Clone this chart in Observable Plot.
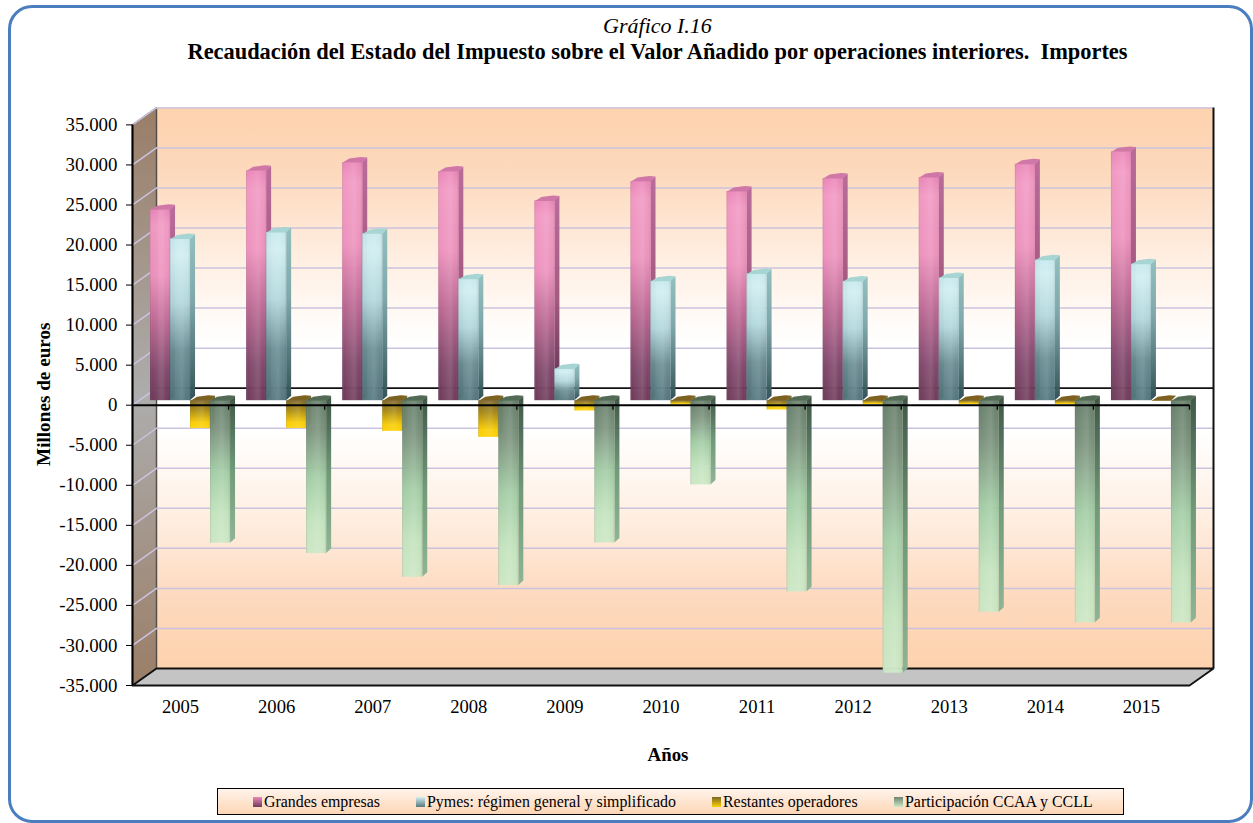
<!DOCTYPE html>
<html lang="es">
<head>
<meta charset="utf-8">
<script src="https://cdn.jsdelivr.net/npm/d3@7"></script>
<script src="https://cdn.jsdelivr.net/npm/@observablehq/plot@0.6"></script>
<style>
  html, body { margin: 0; padding: 0; background: #fff; }
  #page { position: relative; width: 1253px; height: 823px; overflow: hidden; font-family: "Liberation Serif", serif; color: #000; }
  #panel { position: absolute; left: 7.5px; top: 4.5px; width: 1245px; height: 818px; box-sizing: border-box; border: 3px solid #4a7ebf; border-radius: 24px; }
  #head { position: absolute; left: 0; top: 0; width: 1315px; height: 90px; text-align: center; }
  #head i { position: absolute; left: 0; right: 0; top: 14px; font-size: 22px; line-height: 24px; }
  #head b { position: absolute; left: 0; right: 0; top: 40px; font-size: 22.4px; line-height: 24px; white-space: pre; }
  #chart { position: absolute; left: 0; top: 90px; }
  #chart svg { display: block; }
  #legend { position: absolute; left: 217px; top: 788px; width: 907px; height: 27px; box-sizing: border-box; border: 1.5px solid #000; background: linear-gradient(#fff3ea, #fdd6b6); }
  #legend span { position: absolute; top: 0; line-height: 25px; font-size: 15.9px; white-space: nowrap; }
  #legend em { position: absolute; top: 7.5px; width: 9.5px; height: 10px; }
</style>
</head>
<body>
<div id="page">
  <div id="panel"></div>
  <div id="head"><i>Gráfico I.16</i><b>Recaudación del Estado del Impuesto sobre el Valor Añadido por operaciones interiores.  Importes</b></div>
  <div id="chart"></div>
  <div id="legend"></div>
</div>
<script>
// ---------- data ----------
const years = [2005, 2006, 2007, 2008, 2009, 2010, 2011, 2012, 2013, 2014, 2015];
const grandes = [23830, 28700, 29740, 28610, 24950, 27360, 26120, 27740, 27870, 29530, 31070];
const pymes = [20200, 21000, 20840, 15180, 3950, 14900, 15810, 14890, 15310, 17550, 17050];
const restantes = [-3460, -3460, -3830, -4580, -1280, -540, -1160, -500, -500, -500, -30];
const participacion = [-17800, -19090, -22050, -23090, -17760, -10520, -23870, -34030, -26410, -27740, -27740];
const seriesNames = ["Grandes empresas", "Pymes: régimen general y simplificado", "Restantes operadores", "Participación CCAA y CCLL"];
const yTicks = [35000, 30000, 25000, 20000, 15000, 10000, 5000, 0, -5000, -10000, -15000, -20000, -25000, -30000, -35000];
const seriesValues = [grandes, pymes, restantes, participacion];

// ---------- styles ----------
const frontStops = [
  [[0, "#ea84b9"], [.08, "#f197c3"], [.35, "#ec8fbc"], [.6, "#b96490"], [.85, "#7c4267"], [1, "#6c3656"]],
  [[0, "#c5e9ee"], [.1, "#cfedf1"], [.4, "#afd6db"], [.7, "#668a90"], [1, "#4f727a"]],
  [[0, "#7a6328"], [.35, "#a8880f"], [.8, "#f8cc00"], [1, "#ffd200"]],
  [[0, "#627b66"], [.2, "#78907a"], [.5, "#a0cba3"], [.8, "#c2e3bd"], [1, "#cbe7c4"]]
];
const sideStops = [
  [[0, "#b8689a"], [.5, "#a3557f"], [1, "#552a48"]],
  [[0, "#8fbebe"], [.4, "#7ba5a8"], [1, "#2f4d52"]],
  [[0, "#5c5020"], [1, "#a8941c"]],
  [[0, "#3a5140"], [.5, "#6b9774"], [1, "#8cb394"]]
];
const capColors = ["#cf78a8", "#a6d5d4", "#7d6120", "#536b55"];
const legendStops = [
  "linear-gradient(#ec88bc, #703a5a)", "linear-gradient(#d2eff3, #557980)",
  "linear-gradient(#7a6528, #ffd200)", "linear-gradient(#6d8570, #cde8c6)"
];
const legendSwatchX = [34.5, 197.5, 493.5, 675.5];

// ---------- geometry ----------
const x0 = 2004.5, x1 = 2015.5, yMax = 35000;
const pxPerYear = 96.09, pxPerUnit = 40.05 / 5000;
const px = (n) => n / pxPerYear;
const py = (n) => n / pxPerUnit;
const wallDx = 24, wallDy = -17;
const barW = px(20), barStart = px(-30), barRise = -4.5;
const sideX = px(5), sideY = py(4.5);

const grid = "#cbc3de";

function defs() {
  const d = d3.create("svg:defs");
  const lin = (id, stops, horizontal) => {
    const g = d.append("linearGradient").attr("id", id)
      .attr("x1", 0).attr("y1", 0).attr("x2", horizontal ? 1 : 0).attr("y2", horizontal ? 0 : 1);
    for (const [o, c, a] of stops) {
      g.append("stop").attr("offset", o).attr("stop-color", c).attr("stop-opacity", a == null ? 1 : a);
    }
  };
  frontStops.forEach((s, i) => lin("front" + i, s));
  sideStops.forEach((s, i) => lin("side" + i, s));
  lin("wall", [[0, "#fdd2ae"], [.12, "#fdd9bd"], [.28, "#fff0e4"], [.42, "#ffffff"], [.58, "#ffffff"], [.72, "#fff0e4"], [.88, "#fdd9bd"], [1, "#fdd2ae"]]);
  lin("leftwall", [[0, "#9a7d66"], [.5, "#adadad"], [1, "#9a7d66"]]);
  lin("cyl", [[0, "#000", .14], [.1, "#fff", 0], [.6, "#fff", .12], [.85, "#fff", 0], [1, "#000", .1]], true);
  return d.node();
}

const fmt = d3.formatLocale({decimal: ",", thousands: ".", grouping: [3], currency: ["", "€"], minus: "-"}).format(",d");

const rowsFor = (values, s) => values.map((v, i) => {
  const left = years[i] + barStart + s * barW;
  return {year: years[i], v, left, right: left + barW};
});

// Columns: side, front, cylinder shading, top cap
const barMarks = seriesValues.flatMap((values, s) => {
  const rows = rowsFor(values, s);
  const side = rows.flatMap((r) => [
    {year: r.year, x: r.right, y1: 0, y2: r.v},
    {year: r.year, x: r.right + sideX, y1: sideY, y2: r.v + sideY}
  ]);
  const capShape = [[0, 0], [6.5, 4], [18, 5.5], [24.5, 5], [19.5, 0]];
  const cap = rows.flatMap((r) => capShape.map(([a, b]) => ({
    year: r.year, x: r.left + px(a), y: Math.max(r.v, 0) + py(b)
  })));
  return [
    Plot.areaY(side, {x: "x", y1: "y1", y2: "y2", z: "year", fill: `url(#side${s})`, dy: barRise, opacity: 0.97}),
    Plot.rect(rows, {x1: "left", x2: "right", y1: () => 0, y2: "v", fill: `url(#front${s})`, dy: barRise, opacity: 0.97}),
    Plot.rect(rows, {x1: "left", x2: "right", y1: () => 0, y2: "v", fill: "url(#cyl)", dy: barRise}),
    Plot.line(cap, {x: "x", y: "y", z: "year", curve: "linear-closed", fill: capColors[s], stroke: "none", dy: barRise})
  ];
});

const wallRect = [{x1: x0, x2: x1, y1: -yMax, y2: yMax}];
const leftWall = [
  {x: x0, y: -yMax}, {x: x0, y: yMax},
  {x: x0 + px(wallDx), y: yMax - py(wallDy)}, {x: x0 + px(wallDx), y: -yMax - py(wallDy)}
];
const floor = [
  {x: x0, y: -yMax}, {x: x0 + px(wallDx), y: -yMax - py(wallDy)},
  {x: x1 + px(wallDx), y: -yMax - py(wallDy)}, {x: x1, y: -yMax}
];
const boundaries = years.map((y) => y + 0.5);

const chart = Plot.plot({
  width: 1253,
  height: 690,
  marginLeft: 132,
  marginRight: 64,
  marginTop: 34.4,
  marginBottom: 95,
  x: {type: "linear", domain: [x0, x1]},
  y: {type: "linear", domain: [-yMax, yMax]},
  style: {fontFamily: "'Liberation Serif', serif", background: "transparent", color: "#000", overflow: "visible"},
  marks: [
    defs,
    // walls
    Plot.rect(wallRect, {x1: "x1", x2: "x2", y1: "y1", y2: "y2", fill: "url(#wall)", dx: wallDx, dy: wallDy}),
    Plot.line(leftWall, {x: "x", y: "y", curve: "linear-closed", fill: "url(#leftwall)", stroke: "#55504c", strokeWidth: 1.5}),
    Plot.link(yTicks.filter((t) => t > -yMax), {
      x1: () => x0, x2: () => x0 + px(wallDx),
      y1: (t) => t, y2: (t) => t - py(wallDy),
      stroke: grid, strokeWidth: 1.5
    }),
    Plot.ruleY(yTicks.filter((t) => t !== 0 && t > -yMax), {x1: () => x0, x2: () => x1, dx: wallDx, dy: wallDy, stroke: grid, strokeWidth: 1.5}),
    Plot.line(floor, {x: "x", y: "y", curve: "linear-closed", fill: "#c4c4c4", stroke: "#111", strokeWidth: 1.8}),
    Plot.ruleX([x1], {y1: () => -yMax, y2: () => yMax, dx: wallDx, dy: wallDy, stroke: "#111", strokeWidth: 2}),
    Plot.ruleY([0], {x1: () => x0, x2: () => x1, dx: wallDx, dy: wallDy, stroke: "#111", strokeWidth: 1.8}),
    // columns
    ...barMarks,
    // front zero line with category ticks
    Plot.ruleY([0], {x1: () => x0, x2: () => x1, stroke: "#000", strokeWidth: 2}),
    Plot.ruleX(boundaries, {y1: () => 0, y2: () => -py(5), stroke: "#000", strokeWidth: 1.3}),
    Plot.ruleX([x0], {y1: () => -yMax, y2: () => yMax, stroke: "#000", strokeWidth: 2}),
    // axes
    Plot.axisY({ticks: yTicks, tickFormat: fmt, tickSize: 6, tickPadding: 9, label: null, fontSize: 18.9, stroke: "#000", fill: "#000"}),
    Plot.axisX({ticks: years, tickFormat: (d) => String(d), tickSize: 0, tickPadding: 14, label: null, fontSize: 18.6, fill: "#000"}),
    Plot.text(["Millones de euros"], {frameAnchor: "left", rotate: -90, dx: -89, dy: -11, fontSize: 19.2, fontWeight: "bold", fill: "#000", textAnchor: "middle"}),
    Plot.text(["Años"], {frameAnchor: "bottom", dx: 7, dy: 75, fontSize: 18.9, fontWeight: "bold", fill: "#000"})
  ]
});
document.getElementById("chart").appendChild(chart);

// legend
const legend = document.getElementById("legend");
seriesNames.forEach((name, i) => {
  const sw = document.createElement("em");
  sw.style.left = legendSwatchX[i] + "px";
  sw.style.background = legendStops[i];
  legend.appendChild(sw);
  const t = document.createElement("span");
  t.style.left = (legendSwatchX[i] + 11.5) + "px";
  t.textContent = name;
  legend.appendChild(t);
});
</script>
</body>
</html>
